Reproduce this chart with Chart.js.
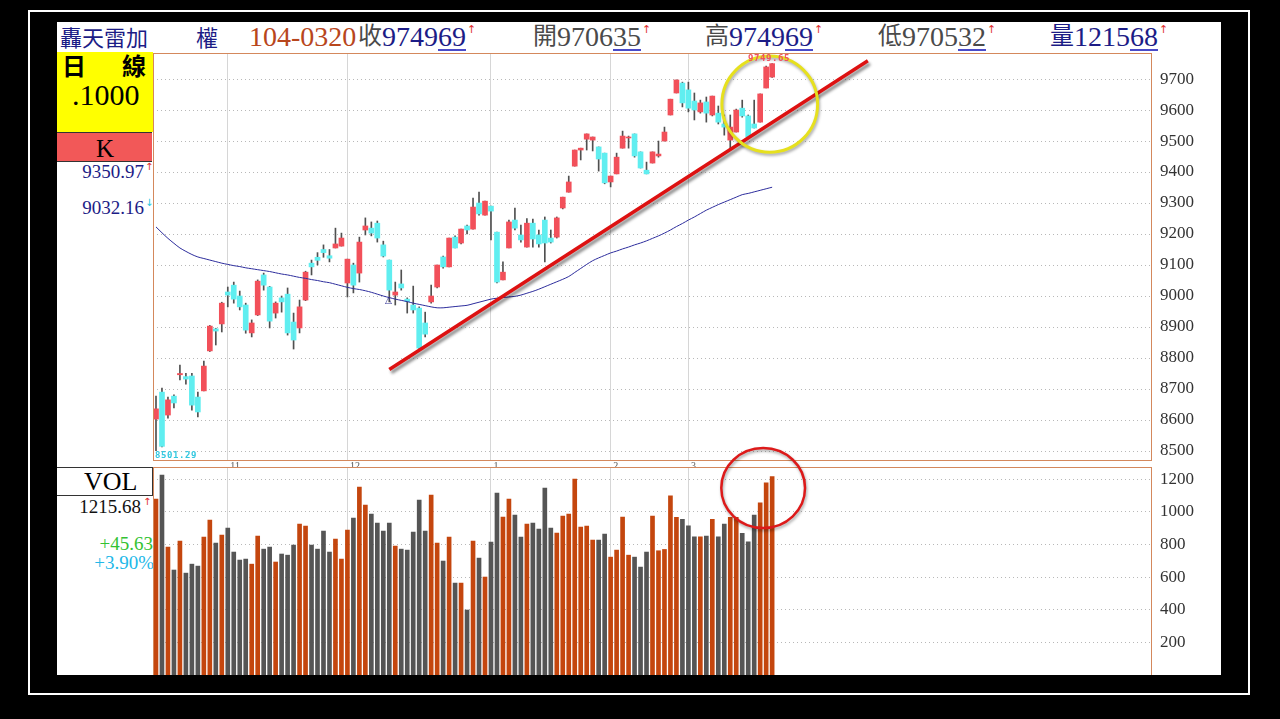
<!DOCTYPE html>
<html>
<head>
<meta charset="utf-8">
<script src="https://cdn.jsdelivr.net/npm/chart.js@4.4.1/dist/chart.umd.min.js"></script>
<style>
html, body { margin: 0; padding: 0; background: #000; width: 1280px; height: 719px; overflow: hidden; }
#frame { position: absolute; left: 28px; top: 10px; width: 1222px; height: 685px; border: 2px solid #fff; box-sizing: border-box; }
#sheet { position: absolute; left: 57px; top: 22px; width: 1164px; height: 653px; background: #fff; }
.t { position: absolute; white-space: nowrap; line-height: 1; }
.cjk { font-family: "Noto Sans CJK TC", sans-serif; }
.num { font-family: "Liberation Serif", serif; }
.hd { top: 23px; font-size: 28px; }
.hd .cjk { font-size: 24px; position: relative; top: -2px; }
.hd u { text-decoration-color: #4a4ac8; text-underline-offset: 3px; }
.hd sup { color: #e03030; font-size: 11px; font-family: "DejaVu Sans", sans-serif; vertical-align: top; position: relative; top: 1px; margin-left: 1px; }
.navy { color: #1c1c86; }
.gray { color: #4a4a4a; }
#yellow { position: absolute; left: 57px; top: 52px; width: 96px; height: 80px; background: #ffff00; }
#kbox { position: absolute; left: 57px; top: 132px; width: 95px; height: 28px; background: #f25858; border-top: 1px solid #333; border-bottom: 1px solid #333; }
#volbox { position: absolute; left: 57px; top: 467px; width: 95px; height: 27px; background: #fff; border-top: 1px solid #333; border-bottom: 1px solid #333; border-right: 1px solid #333; }
.side { font-family: "Liberation Serif", serif; font-size: 19px; text-align: right; }
.arr { font-size: 10px; font-family: "DejaVu Sans", sans-serif; vertical-align: top; }
.mono { font-family: "DejaVu Sans Mono", monospace; font-weight: bold; font-size: 9px; letter-spacing: 0.6px; }
canvas { position: absolute; }
</style>
</head>
<body>
<div id="frame"></div>
<div id="sheet"></div>

<div class="t hd cjk navy" style="left:60px;top:25px;font-size:22px;">轟天雷加</div>
<div class="t hd cjk navy" style="left:196px;top:25px;font-size:22px;">權</div>
<div class="t hd num" style="left:249px;color:#b8461c;">104-0320</div>
<div class="t hd" style="left:358px;"><span class="cjk gray">收</span><span class="num navy">9749<u>69</u></span><sup>↑</sup></div>
<div class="t hd" style="left:533px;"><span class="cjk gray">開</span><span class="num gray">9706<u>35</u></span><sup>↑</sup></div>
<div class="t hd" style="left:705px;"><span class="cjk gray">高</span><span class="num navy">9749<u>69</u></span><sup>↑</sup></div>
<div class="t hd" style="left:878px;"><span class="cjk gray">低</span><span class="num gray">9705<u>32</u></span><sup>↑</sup></div>
<div class="t hd" style="left:1050px;"><span class="cjk navy">量</span><span class="num navy">1215<u>68</u></span><sup>↑</sup></div>

<div id="yellow"></div>
<div class="t cjk" style="left:62px;top:53px;font-size:24px;font-weight:bold;">日</div>
<div class="t cjk" style="left:122px;top:53px;font-size:24px;font-weight:bold;">線</div>
<div class="t num" style="left:72px;top:80px;font-size:30px;">.1000</div>
<div id="kbox"></div>
<div class="t num" style="left:96px;top:136px;font-size:25px;">K</div>
<div class="t side navy" style="right:1136px;top:162px;">9350.97</div><div class="t arr" style="left:145px;top:162px;color:#e03030;">↑</div>
<div class="t side navy" style="right:1136px;top:198px;">9032.16</div><div class="t arr" style="left:145px;top:198px;color:#22c8e0;">↓</div>

<div id="volbox"></div>
<div class="t num" style="left:84px;top:469px;font-size:26px;">VOL</div>
<div class="t side" style="right:1139px;top:497px;color:#111;">1215.68</div><div class="t arr" style="left:143px;top:497px;color:#e03030;">↑</div>
<div class="t side" style="right:1127px;top:534px;color:#33c233;">+45.63</div>
<div class="t side" style="right:1126px;top:553px;color:#22b8e8;">+3.90%</div>

<canvas id="priceChart" width="1068" height="414" style="left:153px;top:53px;"></canvas>
<canvas id="volChart" width="1068" height="235" style="left:153px;top:440px;"></canvas>

<div class="t mono" style="left:155px;top:451px;color:#33c8e0;">8501.29</div>
<div class="t mono" style="left:748px;top:54px;color:#f05060;">9749.65</div>
<div class="t" style="left:385px;top:296px;font-size:9px;color:#2a2a90;font-family:'DejaVu Sans',sans-serif;">△</div>

<script>
// 日K資料 (2014/10 ~ 2015/03/20)
const openPrices = [8603,8690,8616,8677,8746,8740,8742,8674,8694,8823,
  8894,8910,9013,9035,9000,8971,8881,8939,9068,9029,
  8945,8994,9006,8916,8897,8987,9106,9125,9150,9130,
  9155,9161,9042,9100,9074,9213,9219,9235,9165,9116,
  9003,9039,8990,8971,8961,8913,8981,9029,9126,9094,
  9190,9171,9226,9216,9300,9261,9290,9206,9052,9155,
  9245,9197,9158,9235,9197,9245,9187,9190,9284,9335,
  9419,9471,9506,9503,9481,9461,9368,9394,9477,9510,
  9523,9465,9406,9429,9452,9500,9584,9655,9687,9665,
  9629,9594,9626,9584,9590,9555,9503,9529,9606,9581,
  9555,9561,9671,9706.35];
const highPrices = [8677,8703,8674,8681,8777,8751,8751,8690,8790,8905,
  8896,8980,9029,9045,9016,8977,8923,9052,9074,9031,
  8981,9000,9026,8945,8987,9080,9116,9140,9165,9150,
  9219,9203,9119,9106,9190,9252,9239,9242,9177,9116,
  9045,9084,8994,9032,8965,8948,9035,9100,9129,9187,
  9194,9216,9229,9316,9335,9306,9290,9206,9110,9245,
  9284,9229,9250,9248,9213,9255,9213,9255,9319,9387,
  9471,9477,9523,9513,9481,9461,9387,9461,9532,9516,
  9523,9465,9432,9465,9500,9545,9635,9697,9690,9690,
  9655,9632,9642,9645,9613,9584,9584,9603,9632,9584,
  9632,9652,9742,9749.69];
const lowPrices = [8501.29,8513,8606,8639,8729,8716,8632,8610,8694,8821,
  8842,8884,8965,8977,8955,8880,8868,8937,9019,8897,
  8929,8948,8874,8829,8881,8985,9068,9100,9125,9110,
  9155,9161,8997,9010,9045,9197,9194,9174,9126,8981,
  8971,9019,8945,8945,8826,8868,8977,9026,9090,9094,
  9155,9168,9200,9216,9261,9261,9181,9042,9052,9155,
  9213,9174,9158,9158,9158,9110,9171,9187,9281,9335,
  9419,9439,9471,9468,9403,9362,9352,9394,9477,9477,
  9448,9413,9394,9429,9448,9500,9584,9655,9610,9594,
  9568,9590,9561,9581,9555,9519,9471,9529,9577,9510,
  9542,9561,9671,9705.32];
const closePrices = [8636,8515,8665,8655,8750,8732,8648,8626,8774,8903,
  8887,8977,9003,8990,8965,8890,8913,9048,9035,8919,
  8977,8981,8881,8858,8965,9077,9094,9115,9140,9122,
  9168,9187,9119,9035,9174,9226,9203,9187,9129,9019,
  9013,9026,8982,8955,8832,8877,9000,9100,9094,9187,
  9155,9216,9213,9287,9265,9306,9274,9045,9077,9239,
  9219,9181,9235,9184,9168,9171,9174,9252,9319,9368,
  9471,9477,9523,9513,9442,9365,9387,9448,9516,9513,
  9452,9413,9394,9465,9458,9529,9635,9697,9623,9606,
  9600,9623,9590,9645,9561,9545,9545,9600,9581,9513,
  9542,9652,9739,9749.69];
// 季線
const maLine = [9223,9204,9186,9170,9155,9144,9134,9126,9121,9116,
  9111,9106,9102,9098,9095,9091,9088,9085,9082,9079,
  9075,9071,9068,9064,9060,9057,9053,9050,9046,9043,
  9038,9033,9028,9024,9021,9017,9012,9006,9000,8995,
  8990,8986,8982,8977,8973,8969,8965,8962,8962,8964,
  8966,8968,8970,8975,8980,8985,8990,8993,8995,8997,
  8999,9003,9009,9015,9022,9030,9038,9046,9054,9063,
  9076,9089,9102,9114,9123,9131,9139,9145,9152,9158,
  9165,9171,9178,9186,9194,9203,9213,9224,9234,9245,
  9255,9266,9277,9286,9295,9303,9311,9319,9327,9331,
  9336,9341,9346,9351];
// 成交量 (億)
const volumes = [1077,1224,783,643,820,624,679,667,845,949,
  808,857,900,753,704,710,679,851,771,783,
  692,741,734,796,924,912,796,771,881,753,
  832,710,887,961,1151,1040,985,930,881,930,
  789,771,765,875,1071,881,1102,808,698,845,
  563,563,398,820,716,600,814,1114,967,1077,
  979,845,924,930,893,1145,900,869,973,985,
  1200,906,912,826,826,863,722,765,967,734,
  722,661,753,973,761,769,1097,965,953,914,
  846,846,851,953,846,924,965,965,867,816,
  979,1054,1177,1216];

const slotCount = 167;                 // 含右側空白
const monthIndex = [12, 32, 56, 76, 89];
const monthNames = ['11', '12', '1', '2', '3'];
const priceTicks = [8500,8600,8700,8800,8900,9000,9100,9200,9300,9400,9500,9600,9700];
const volTicks = [200,400,600,800,1000,1200];
const trendStart = [39, 8763];
const trendEnd = [119, 9759];
const priceRing = { x: 102.6, y: 9619, rx: 8, ry: 155, color: '#e6e01e', width: 3 };
const volRing = { x: 101.5, y: 1145, rx: 7, ry: 245, color: '#dd1a1a', width: 2.5 };

const labels = Array.from({ length: slotCount }, (_, i) => String(i));
const isUp = closePrices.map((c, i) => c >= openPrices[i]);
const trendData = labels.map((_, i) => i === trendStart[0] ? trendStart[1] : (i === trendEnd[0] ? trendEnd[1] : null));

const serif = 'Liberation Serif';
const frameColor = '#d4885c';

const marks = {
    id: 'marks',
    beforeDatasetDraw(chart, args) {
        if (chart.data.datasets[args.index].shadow) {
            const c = chart.ctx;
            c.save();
            c.shadowColor = 'rgba(0,0,0,0.45)';
            c.shadowBlur = 3;
            c.shadowOffsetX = 2;
            c.shadowOffsetY = 3;
        }
    },
    afterDatasetDraw(chart, args) {
        if (chart.data.datasets[args.index].shadow) chart.ctx.restore();
    },
    afterDraw(chart, args, opts) {
        const c = chart.ctx, a = chart.chartArea;
        c.save();
        c.strokeStyle = frameColor;
        c.lineWidth = 1;
        c.strokeRect(a.left + 0.5, a.top + 0.5, a.right - a.left - 1, a.bottom - a.top);
        const ring = opts.ring;
        if (ring) {
            const xs = chart.scales.x, ys = chart.scales.y;
            const px = xs.getPixelForValue(ring.x), py = ys.getPixelForValue(ring.y);
            const rx = Math.abs(xs.getPixelForValue(ring.x + ring.rx) - px);
            const ry = Math.abs(ys.getPixelForValue(ring.y + ring.ry) - py);
            c.shadowColor = 'rgba(0,0,0,0.35)';
            c.shadowBlur = 3;
            c.shadowOffsetX = 1;
            c.shadowOffsetY = 2;
            c.strokeStyle = ring.color;
            c.lineWidth = ring.width;
            c.beginPath();
            c.ellipse(px, py, rx, ry, 0, 0, Math.PI * 2);
            c.stroke();
        }
        c.restore();
    }
};

const monthGrid = ctx => monthIndex.includes(ctx.index) ? '#d6d6d6' : 'rgba(0,0,0,0)';
const yTickFont = { family: serif, size: 17 };
const noPad = s => { s.paddingTop = 0; s.paddingBottom = 0; s.paddingLeft = 0; s.paddingRight = 0; };

new Chart(document.getElementById('priceChart'), {
    type: 'bar',
    data: {
        labels: labels,
        datasets: [
            {
                type: 'line', data: trendData, shadow: true, spanGaps: true,
                borderColor: '#dd1111', borderWidth: 3.5, pointRadius: 0
            },
            {
                type: 'line', data: maLine,
                borderColor: '#2c2c9c', borderWidth: 1, pointRadius: 0, tension: 0.3
            },
            {
                data: openPrices.map((o, i) => [o, closePrices[i]]),
                backgroundColor: isUp.map(u => u ? '#f2505a' : '#60eef0'),
                barThickness: 5, grouped: false, borderSkipped: false
            },
            {
                data: lowPrices.map((l, i) => [l, highPrices[i]]),
                backgroundColor: '#505050',
                barThickness: 1, grouped: false, borderSkipped: false
            }
        ]
    },
    options: {
        responsive: false,
        animation: false,
        devicePixelRatio: 1,
        layout: { padding: 0 },
        plugins: { legend: { display: false }, tooltip: { enabled: false }, marks: { ring: priceRing } },
        scales: {
            x: {
                type: 'category', offset: true,
                grid: { offset: false, color: monthGrid, drawTicks: false },
                border: { display: false },
                ticks: {
                    autoSkip: false, maxRotation: 0, padding: 0, align: 'start',
                    font: { family: serif, size: 10 }, color: '#555',
                    callback: (v, i) => {
                        const k = monthIndex.indexOf(i);
                        return k >= 0 ? ' ' + monthNames[k] : '';
                    }
                },
                afterFit: s => { s.height = 7; noPad(s); }
            },
            y: {
                position: 'right', min: 8471, max: 9784,
                afterBuildTicks: s => { s.ticks = priceTicks.map(v => ({ value: v })); },
                grid: { color: '#b8b8b8', drawTicks: false },
                border: { display: false, dash: [1, 3] },
                ticks: { padding: 8, font: yTickFont, color: '#333', callback: v => String(v) },
                afterFit: s => { s.width = 69; noPad(s); }
            }
        }
    },
    plugins: [marks]
});

new Chart(document.getElementById('volChart'), {
    type: 'bar',
    data: {
        labels: labels,
        datasets: [{
            data: volumes,
            backgroundColor: isUp.map(u => u ? '#c4460e' : '#555555'),
            barThickness: 4
        }]
    },
    options: {
        responsive: false,
        animation: false,
        devicePixelRatio: 1,
        layout: { padding: { top: 27 } },
        plugins: { legend: { display: false }, tooltip: { enabled: false }, marks: { ring: volRing } },
        scales: {
            x: {
                type: 'category', offset: true,
                grid: { offset: false, color: monthGrid, drawTicks: false },
                border: { display: false },
                ticks: { display: false },
                afterFit: s => { s.height = 0; noPad(s); }
            },
            y: {
                position: 'right', min: 0, max: 1274,
                afterBuildTicks: s => { s.ticks = volTicks.map(v => ({ value: v })); },
                grid: { color: '#b8b8b8', drawTicks: false },
                border: { display: false, dash: [1, 3] },
                ticks: { padding: 8, font: yTickFont, color: '#333', callback: v => String(v) },
                afterFit: s => { s.width = 69; noPad(s); }
            }
        }
    },
    plugins: [marks]
});
</script>
</body>
</html>
